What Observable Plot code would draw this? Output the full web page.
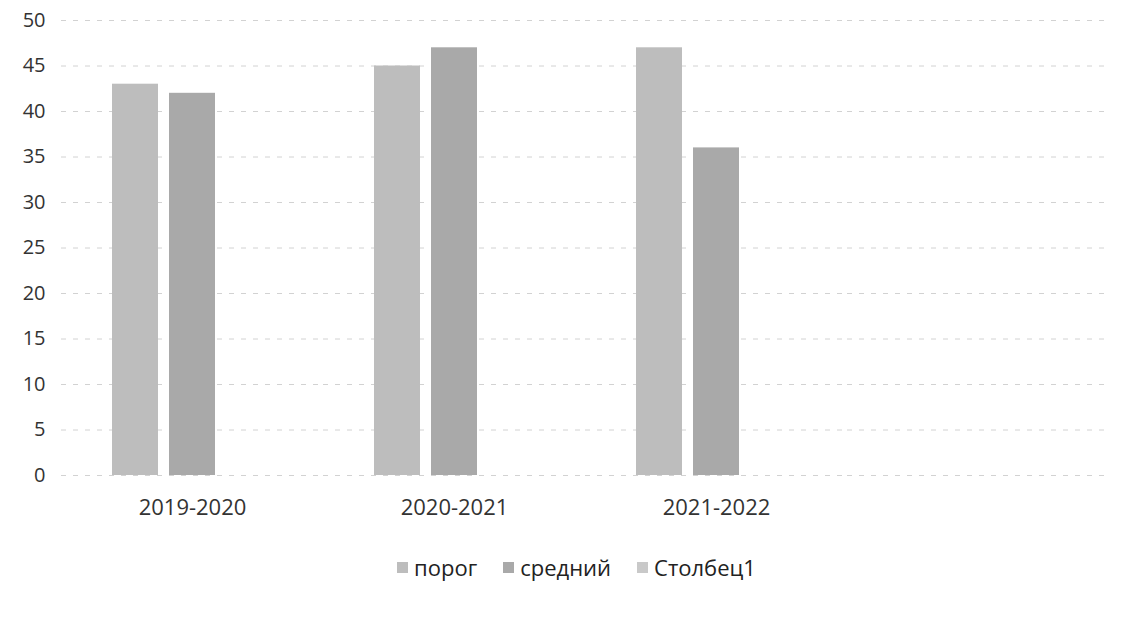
<!DOCTYPE html>
<html>
<head>
<meta charset="utf-8">
<script src="https://cdn.jsdelivr.net/npm/d3@7"></script>
<script src="https://cdn.jsdelivr.net/npm/@observablehq/plot@0.6"></script>
<style>
  html, body { margin: 0; padding: 0; background: #fff; }
  body { width: 1139px; height: 620px; overflow: hidden; font-family: "Open Sans", "DejaVu Sans", sans-serif; }
  #chart svg { display: block; }
  #chart svg text { font-size: 20px !important; }
  #chart svg [aria-label^="fx-axis"] text { font-size: 22px !important; }
  #legend { display: flex; justify-content: center; align-items: center; gap: 26px; margin-top: 32px; padding-left: 14px; font-size: 22px; color: #222; }
  #legend .item { display: flex; align-items: center; gap: 6px; }
  #legend .sw { width: 11px; height: 11px; display: inline-block; }
</style>
</head>
<body>
<div id="chart"></div>
<div id="legend"></div>
<script>
const years = ["2019-2020", "2020-2021", "2021-2022", " "];
const series = ["порог", "средний", "Столбец1"];
const porog = [43, 45, 47, null];
const sredniy = [42, 47, 36, null];
const stolbets1 = [null, null, null, null];
const yTicks = [0, 5, 10, 15, 20, 25, 30, 35, 40, 45, 50];
const colors = ["#bdbdbd", "#a9a9a9", "#c9c9c9"];

const data = [];
[porog, sredniy, stolbets1].forEach((arr, s) =>
  arr.forEach((v, i) => data.push({year: years[i], series: series[s], value: v}))
);

const chart = Plot.plot({
  width: 1139,
  height: 520,
  marginLeft: 60,
  marginRight: 29,
  marginTop: 20,
  marginBottom: 45,
  style: {fontFamily: "'Open Sans', 'DejaVu Sans', sans-serif", fontSize: "20px", color: "#333", background: "#fff"},
  fx: {domain: years, padding: 0, label: null, axis: "bottom", tickSize: 0, tickPadding: 24},
  x: {domain: series, paddingInner: 0.2, paddingOuter: 0.87, axis: null},
  y: {domain: [0, 50], ticks: yTicks, label: null, tickSize: 0, tickPadding: 16, tickFormat: d => String(d)},
  color: {domain: series, range: colors},
  marks: [
    Plot.ruleY(yTicks, {stroke: "#d2d2d2", strokeWidth: 1, strokeDasharray: "5,7"}),
    Plot.barY(data, {fx: "year", x: "series", y: "value", fill: "series"})
  ]
});
document.getElementById("chart").appendChild(chart);

const legend = document.getElementById("legend");
series.forEach((s, i) => {
  const item = document.createElement("div");
  item.className = "item";
  const sw = document.createElement("span");
  sw.className = "sw";
  sw.style.background = colors[i];
  const t = document.createElement("span");
  t.textContent = s;
  item.appendChild(sw);
  item.appendChild(t);
  legend.appendChild(item);
});
</script>
</body>
</html>
